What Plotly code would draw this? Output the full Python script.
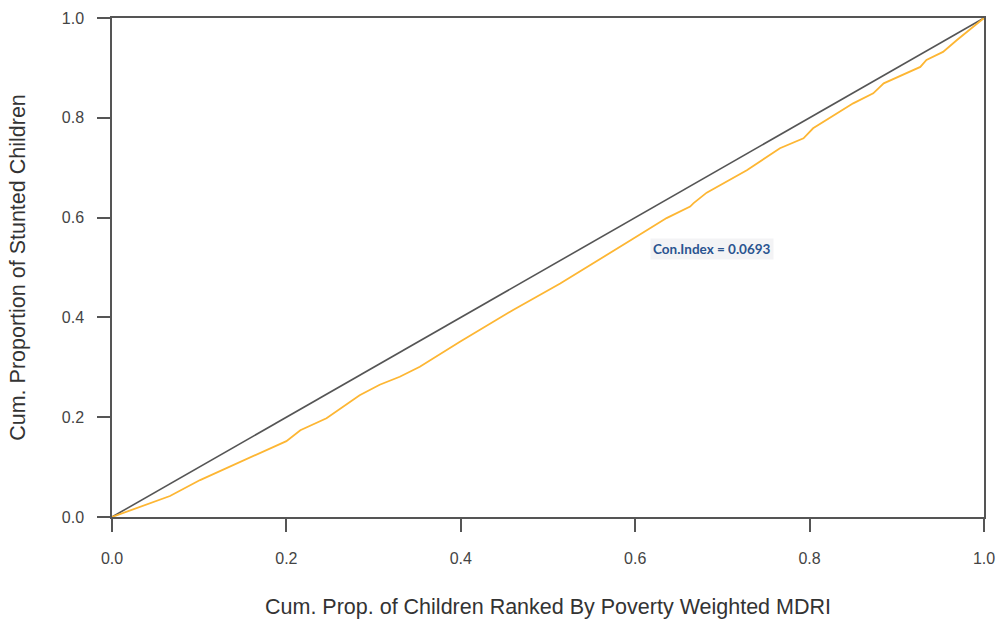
import plotly.graph_objects as go

# Concentration curve
cum_children = [0.0, 0.055, 0.0665, 0.101, 0.147, 0.177, 0.200, 0.216, 0.246, 0.284,
                0.307, 0.330, 0.353, 0.399, 0.460, 0.514, 0.552, 0.598, 0.636, 0.651,
                0.663, 0.667, 0.682, 0.728, 0.766, 0.793, 0.804, 0.850, 0.873, 0.885,
                0.919, 0.927, 0.934, 0.953, 0.969, 1.0]
cum_stunted = [0.0, 0.034, 0.042, 0.074, 0.111, 0.134, 0.152, 0.174, 0.198, 0.244,
               0.265, 0.281, 0.301, 0.351, 0.415, 0.468, 0.508, 0.558, 0.599, 0.612,
               0.622, 0.629, 0.650, 0.695, 0.739, 0.759, 0.779, 0.829, 0.849, 0.869,
               0.896, 0.902, 0.916, 0.932, 0.956, 1.0]
equality_x = [0.0, 1.0]
equality_y = [0.0, 1.0]
tick_vals = [0.0, 0.2, 0.4, 0.6, 0.8, 1.0]
tick_text = ["0.0", "0.2", "0.4", "0.6", "0.8", "1.0"]
ci_label = "Con.Index = 0.0693"
ci_pos = (0.688, 0.537)

fig = go.Figure()
fig.add_trace(go.Scatter(x=equality_x, y=equality_y, mode="lines",
                         line=dict(color="#555555", width=1.6), showlegend=False))
fig.add_trace(go.Scatter(x=cum_children, y=cum_stunted, mode="lines",
                         line=dict(color="#FDB633", width=1.8), showlegend=False))

fig.add_annotation(x=ci_pos[0], y=ci_pos[1], text="<b>" + ci_label + "</b>",
                   showarrow=False, font=dict(family="Lato, Open Sans, sans-serif",
                                              size=13.5, color="#2A5490"),
                   bgcolor="#F3F3F5", borderpad=2)

axis_common = dict(range=[0, 1], tickvals=tick_vals, ticktext=tick_text,
                   showgrid=False, zeroline=False, showline=True, mirror=True,
                   linecolor="#555555", linewidth=1.5, ticks="outside", ticklen=13,
                   tickwidth=1.5, tickcolor="#555555", automargin=False,
                   tickfont=dict(family="Liberation Sans, Arial, sans-serif", size=16, color="#444444"))

title_font = dict(family="Liberation Sans, Arial, sans-serif", size=21.5, color="#333333")

fig.update_layout(
    width=996, height=620,
    margin=dict(l=112, r=12, t=18, b=103),
    plot_bgcolor="white", paper_bgcolor="white",
    xaxis=dict(**axis_common,
               title=dict(text="Cum. Prop. of Children Ranked By Poverty Weighted MDRI",
                          font=title_font, standoff=33),
               ticklabelstandoff=13),
    yaxis=dict(**axis_common,
               title=dict(text="Cum. Proportion of Stunted Children",
                          font=title_font, standoff=30),
               ticklabelstandoff=10),
)

fig.write_html("out.html")
